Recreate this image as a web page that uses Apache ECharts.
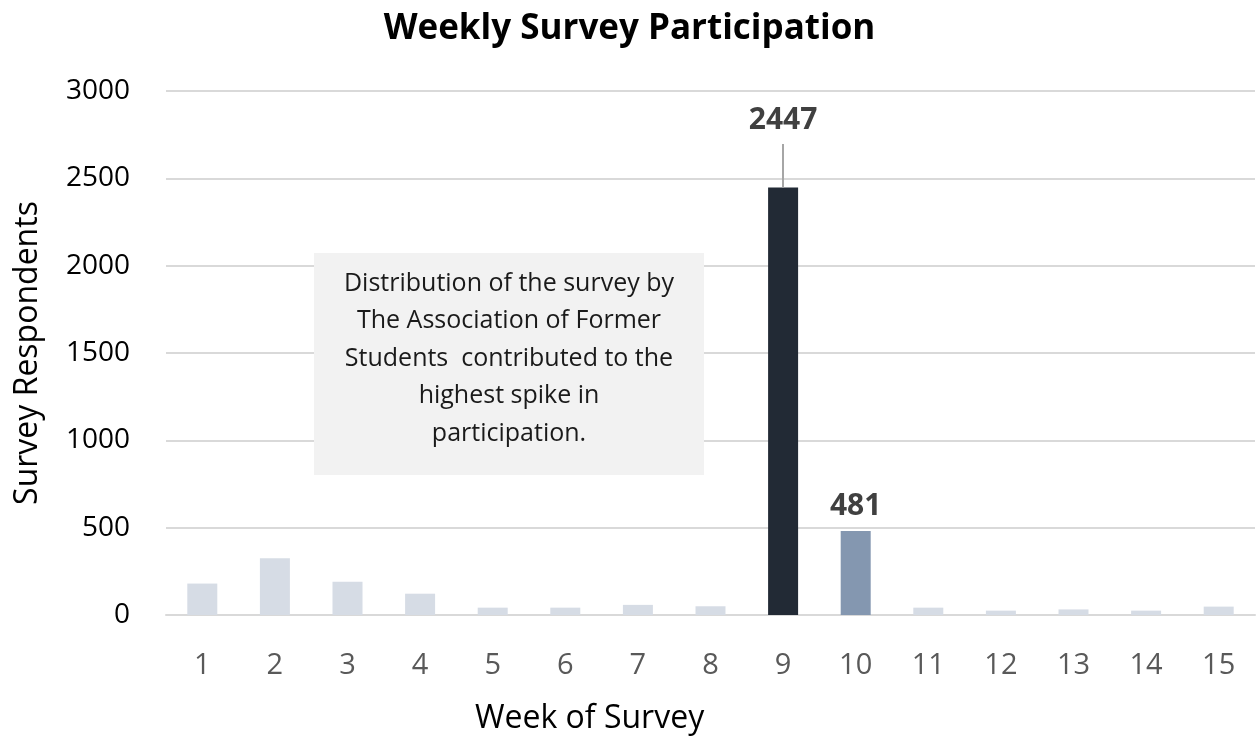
<!DOCTYPE html>
<html>
<head>
<meta charset="utf-8">
<script src="https://cdn.jsdelivr.net/npm/echarts@6/dist/echarts.min.js"></script>
<style>
  html, body { margin: 0; padding: 0; background: #fff; }
  #chart { width: 1259px; height: 738px; }
</style>
</head>
<body>
<div id="chart"></div>
<script>
  // 数据
  var weeks = ['1', '2', '3', '4', '5', '6', '7', '8', '9', '10', '11', '12', '13', '14', '15']
  var respondents = [180, 325, 190, 122, 42, 42, 58, 50, 2447, 481, 42, 25, 32, 25, 48]
  var yTicks = [0, 500, 1000, 1500, 2000, 2500, 3000]
  var noteLines = [
    'Distribution of the survey by',
    'The Association of Former',
    'Students  contributed to the',
    'highest spike in',
    'participation.'
  ]

  var font = '"Open Sans", "Noto Sans", sans-serif'
  var lightColor = '#d6dce5'
  var peakIndex = 8

  var barData = respondents.map(function (v, i) {
    var item = { value: v, itemStyle: { color: lightColor } }
    if (i === peakIndex) {
      item.itemStyle = { color: '#222a35' }
      item.label = { show: true, distance: 52 }
    } else if (i === 9) {
      item.itemStyle = { color: '#8497b0' }
      item.label = { show: true, distance: 10 }
    }
    return item
  })

  var chart = echarts.init(document.getElementById('chart'))
  var option = {
    animation: false,
    title: [{
      text: 'Weekly Survey Participation',
      left: 'center',
      top: 7,
      textStyle: { fontFamily: font, fontWeight: 'bold', fontSize: 35, color: '#000' }
    }, {
      text: 'Week of Survey',
      left: 470,
      top: 698,
      textStyle: { fontFamily: font, fontWeight: 'normal', fontSize: 32, color: '#000' }
    }],
    grid: { left: 166, right: 4, top: 91, bottom: 123 },
    xAxis: {
      type: 'category',
      data: weeks,
      axisTick: { show: false },
      axisLine: { lineStyle: { color: '#d9d9d9', width: 2 } },
      axisLabel: { fontFamily: font, fontSize: 29, color: '#595959', margin: 36 }
    },
    yAxis: {
      type: 'value',
      min: yTicks[0],
      max: yTicks[yTicks.length - 1],
      interval: yTicks[1] - yTicks[0],
      name: 'Survey Respondents',
      nameLocation: 'middle',
      nameGap: 122,
      nameTextStyle: { fontFamily: font, fontSize: 32, color: '#000' },
      axisLine: { show: false },
      axisTick: { show: false },
      axisLabel: {
        fontFamily: font,
        fontSize: 28,
        color: '#000',
        margin: 36,
        formatter: function (v) { return String(v) }
      },
      splitLine: { lineStyle: { color: '#d9d9d9', width: 2 } }
    },
    series: [{
      type: 'bar',
      barWidth: 30,
      data: barData,
      label: {
        show: false,
        position: 'top',
        fontFamily: font,
        fontWeight: 'bold',
        fontSize: 30,
        color: '#404040'
      },
      markLine: {
        silent: true,
        symbol: 'none',
        label: { show: false },
        lineStyle: { color: '#a6a6a6', type: 'solid', width: 2 },
        data: [[
          { coord: [peakIndex, respondents[peakIndex]] },
          { coord: [peakIndex, respondents[peakIndex] + 250] }
        ]]
      }
    }],
    graphic: [{
      type: 'rect',
      left: 314,
      top: 253,
      shape: { width: 390, height: 222 },
      style: { fill: '#f2f2f2' },
      z: 10
    }, {
      type: 'text',
      x: 509,
      y: 265,
      z: 11,
      style: {
        text: noteLines.join('\n'),
        align: 'center',
        verticalAlign: 'top',
        font: '25px ' + font,
        lineHeight: 37.5,
        fill: '#1a1a1a'
      }
    }]
  }
  chart.setOption(option)
</script>
</body>
</html>
